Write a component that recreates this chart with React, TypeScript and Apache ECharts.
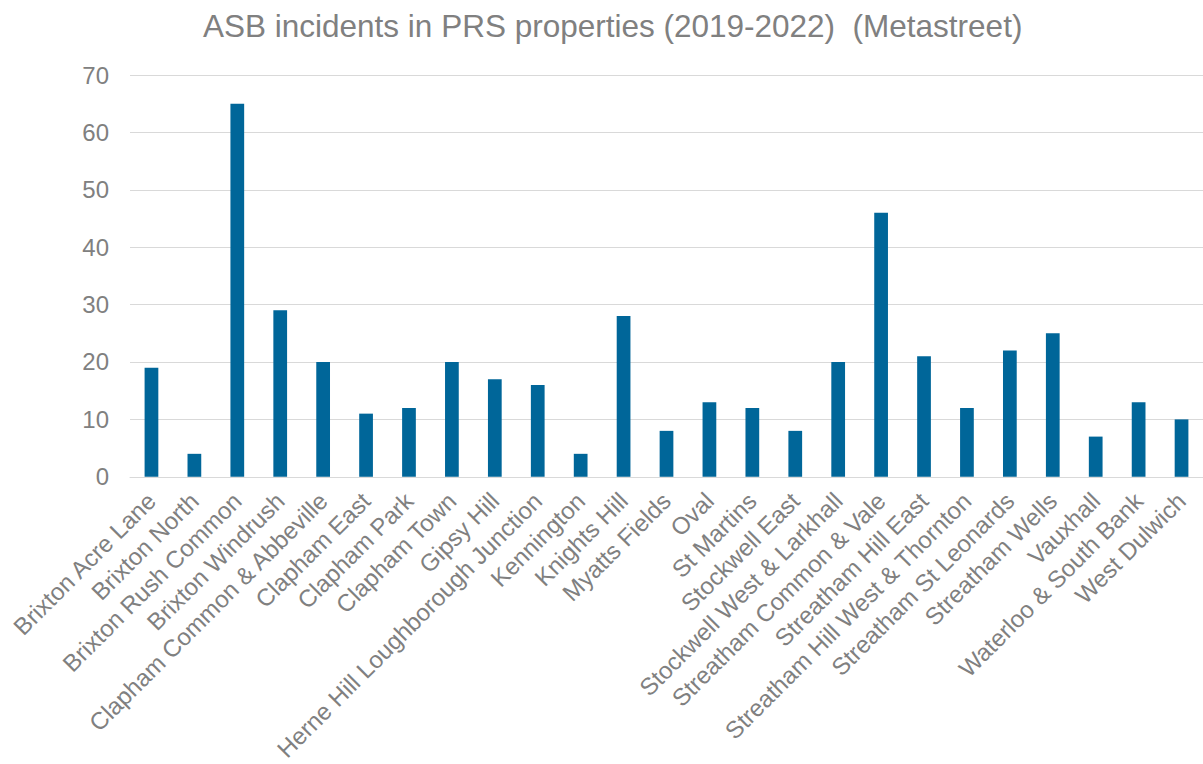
import React, { useEffect, useRef } from "react";
import * as echarts from "echarts";

const categories = [
  "Brixton Acre Lane",
  "Brixton North",
  "Brixton Rush Common",
  "Brixton Windrush",
  "Clapham Common & Abbeville",
  "Clapham East",
  "Clapham Park",
  "Clapham Town",
  "Gipsy Hill",
  "Herne Hill Loughborough Junction",
  "Kennington",
  "Knights Hill",
  "Myatts Fields",
  "Oval",
  "St Martins",
  "Stockwell East",
  "Stockwell West & Larkhall",
  "Streatham Common & Vale",
  "Streatham Hill East",
  "Streatham Hill West & Thornton",
  "Streatham St Leonards",
  "Streatham Wells",
  "Vauxhall",
  "Waterloo & South Bank",
  "West Dulwich",
];

const incidents = [19, 4, 65, 29, 20, 11, 12, 20, 17, 16, 4, 28, 8, 13, 12, 8, 20, 46, 21, 12, 22, 25, 7, 13, 10];

const titleText = "ASB incidents in PRS properties (2019-2022)  (Metastreet)";

export default function App() {
  const ref = useRef<HTMLDivElement>(null);
  useEffect(() => {
    document.body.style.margin = "0";
    if (!ref.current) return;
    const chart = echarts.init(ref.current, null, { renderer: "svg" });
    chart.setOption({
      animation: false,
      backgroundColor: "#ffffff",
      title: {
        text: titleText,
        left: 198,
        top: 5,
        textStyle: {
          fontFamily: "Liberation Sans, Arial, sans-serif",
          fontSize: 31.5,
          fontWeight: "normal",
          color: "#808080",
        },
      },
      grid: { left: 130, right: 0, top: 75, bottom: 283, containLabel: false },
      xAxis: {
        type: "category",
        data: categories,
        axisLine: { show: true, lineStyle: { color: "#d9d9d9", width: 1 } },
        axisTick: { show: false },
        axisLabel: {
          rotate: 45,
          interval: 0,
          margin: 20,
          fontFamily: "Liberation Sans, Arial, sans-serif",
          fontSize: 24,
          color: "#808080",
        },
      },
      yAxis: {
        type: "value",
        min: 0,
        max: 70,
        interval: 10,
        axisLine: { show: false },
        axisTick: { show: false },
        splitLine: { lineStyle: { color: "#d9d9d9", width: 1 } },
        axisLabel: {
          margin: 21,
          fontFamily: "Liberation Sans, Arial, sans-serif",
          fontSize: 24,
          color: "#808080",
        },
      },
      series: [
        {
          type: "bar",
          data: incidents,
          barWidth: "32%",
          itemStyle: { color: "#006699" },
        },
      ],
    });
    return () => chart.dispose();
  }, []);
  return <div ref={ref} style={{ width: 1203, height: 764 }} />;
}
